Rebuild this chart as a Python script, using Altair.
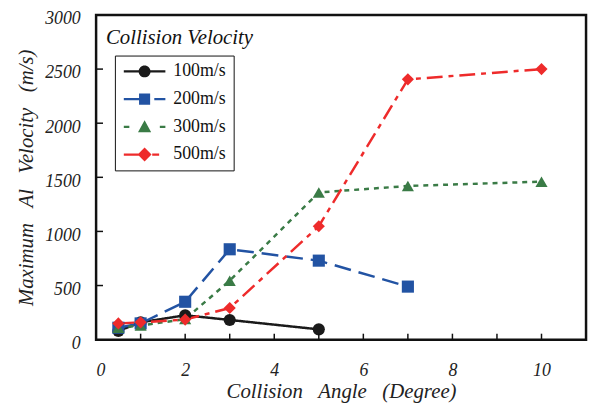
import altair as alt
import pandas as pd

# ---- data ----
series_names = ["100m/s", "200m/s", "300m/s", "500m/s"]
angle_100 = [0.5, 1, 2, 3, 5]
vel_100 = [80, 160, 225, 182, 95]
angle_200 = [0.5, 1, 2, 3, 5, 7]
vel_200 = [110, 150, 350, 835, 730, 490]
angle_300 = [0.5, 1, 2, 3, 5, 7, 10]
vel_300 = [110, 130, 190, 545, 1360, 1420, 1460]
angle_500 = [0.5, 1, 2, 3, 5, 7, 10]
vel_500 = [150, 160, 185, 292, 1048, 2405, 2500]

x_ticks = [1, 2, 3, 4, 5, 6, 7, 8, 9, 10]
x_labels = [0, 2, 4, 6, 8, 10]
y_ticks = [500, 1000, 1500, 2000, 2500]
y_labels = [0, 500, 1000, 1500, 2000, 2500, 3000]

colors = ["#1a1a1a", "#2253a3", "#3a7b46", "#ee2b2b"]
dashes = [[1, 0], [17, 8], [5, 5], [16, 6, 5, 6]]
shapes = ["circle", "square", "triangle-up", "diamond"]

# legend glyphs: line + marker as custom paths (unit = 7px)
def rect(a, b, h=0.16):
    return f"M{a},{-h}H{b}V{h}H{a}Z"

circ = "M2.86,0A0.86,0.86 0 1,1 1.14,0A0.86,0.86 0 1,1 2.86,0Z"
sq = "M1.2,-0.8H2.8V0.8H1.2Z"
tri = "M2,-0.95L2.95,0.8L1.05,0.8Z"
dia = "M2,-1L3,0L2,1L1,0Z"
legend_paths = [
    rect(-1, 5) + circ,
    rect(-1, 2) + rect(3.4, 5) + sq,
    rect(-1, -0.2) + rect(4.2, 5) + tri,
    rect(-1, 2) + rect(3.1, 4.1) + dia,
]

frames = []
for name, xs, ys in [("100m/s", angle_100, vel_100), ("200m/s", angle_200, vel_200),
                     ("300m/s", angle_300, vel_300), ("500m/s", angle_500, vel_500)]:
    frames.append(pd.DataFrame({"angle": xs, "vel": ys, "series": name}))
df = pd.concat(frames, ignore_index=True)

FONT = "Liberation Serif, Times New Roman, serif"
SP = "\u00a0\u00a0\u00a0"
xscale = alt.Scale(domain=[0, 11], nice=False, zero=False)
yscale = alt.Scale(domain=[0, 3000], nice=False)

xaxis = alt.Axis(values=x_labels, tickSize=0, domain=False, grid=False,
                 labelPadding=22, title=f"Collision{SP}Angle{SP}(Degree)", titlePadding=1)
yaxis = alt.Axis(values=y_labels, tickSize=0, domain=False, grid=False,
                 format="d", labelPadding=16, labelOffset=4,
                 title=f"Maximum{SP}Al{SP}Velocity{SP}(m/s)", titlePadding=8)

base = alt.Chart(df)

layers = []
for i, (name, col, dsh) in enumerate(zip(series_names, colors, dashes)):
    sub = base.transform_filter(alt.datum.series == name)
    if i == 0:
        enc = dict(x=alt.X("angle:Q", scale=xscale, axis=xaxis),
                   y=alt.Y("vel:Q", scale=yscale, axis=yaxis))
    else:
        enc = dict(x=alt.X("angle:Q", scale=xscale), y=alt.Y("vel:Q", scale=yscale))
    layers.append(sub.mark_line(strokeWidth=2.5, color=col, strokeDash=dsh).encode(**enc))
for name, col, shp in zip(series_names, colors, shapes):
    layers.append(
        base.transform_filter(alt.datum.series == name)
        .mark_point(filled=True, shape=shp, size=150, color=col, opacity=1)
        .encode(x="angle:Q", y="vel:Q")
    )

leg = alt.Legend(title=None, orient="none", legendX=19, legendY=41,
                 strokeColor="#111", padding=7, rowPadding=10,
                 labelOffset=34, symbolSize=196,
                 labelFont=FONT, labelFontSize=18, labelColor="#111")

legend_layer = base.mark_point(filled=True, size=196, opacity=1, clip=True).encode(
    x=alt.value(-300), y=alt.value(-300),
    color=alt.Color("series:N", scale=alt.Scale(domain=series_names, range=colors), legend=leg),
    shape=alt.Shape("series:N", scale=alt.Scale(domain=series_names, range=legend_paths), legend=leg),
)
layers.append(legend_layer)

xtick_df = pd.DataFrame({"t": x_ticks})
layers.append(alt.Chart(xtick_df).mark_rule(color="#111", strokeWidth=1.5).encode(
    x=alt.X("t:Q", scale=xscale), y=alt.value(329), y2=alt.value(322)))
ytick_df = pd.DataFrame({"t": y_ticks})
layers.append(alt.Chart(ytick_df).mark_rule(color="#111", strokeWidth=1.5).encode(
    y=alt.Y("t:Q", scale=yscale), x=alt.value(0), x2=alt.value(7)))

layers.append(alt.Chart(pd.DataFrame({"t": ["Collision Velocity"]})).mark_text(
    align="left", baseline="middle", font=FONT, fontSize=21, fontStyle="italic", color="#111"
).encode(text="t:N", x=alt.value(10), y=alt.value(23)))

chart = alt.layer(*layers).properties(
    width=495, height=328,
    padding={"left": 8, "top": 0, "right": 4, "bottom": 4},
).configure_view(
    stroke="#111", strokeWidth=2.5
).configure_axis(
    labelFont=FONT, labelFontSize=18, labelFontStyle="italic", labelColor="#222",
    titleFont=FONT, titleFontSize=21, titleFontStyle="italic", titleFontWeight="normal",
    titleColor="#222",
)

chart.save("out.html", embed_options={"renderer": "svg", "actions": False})
